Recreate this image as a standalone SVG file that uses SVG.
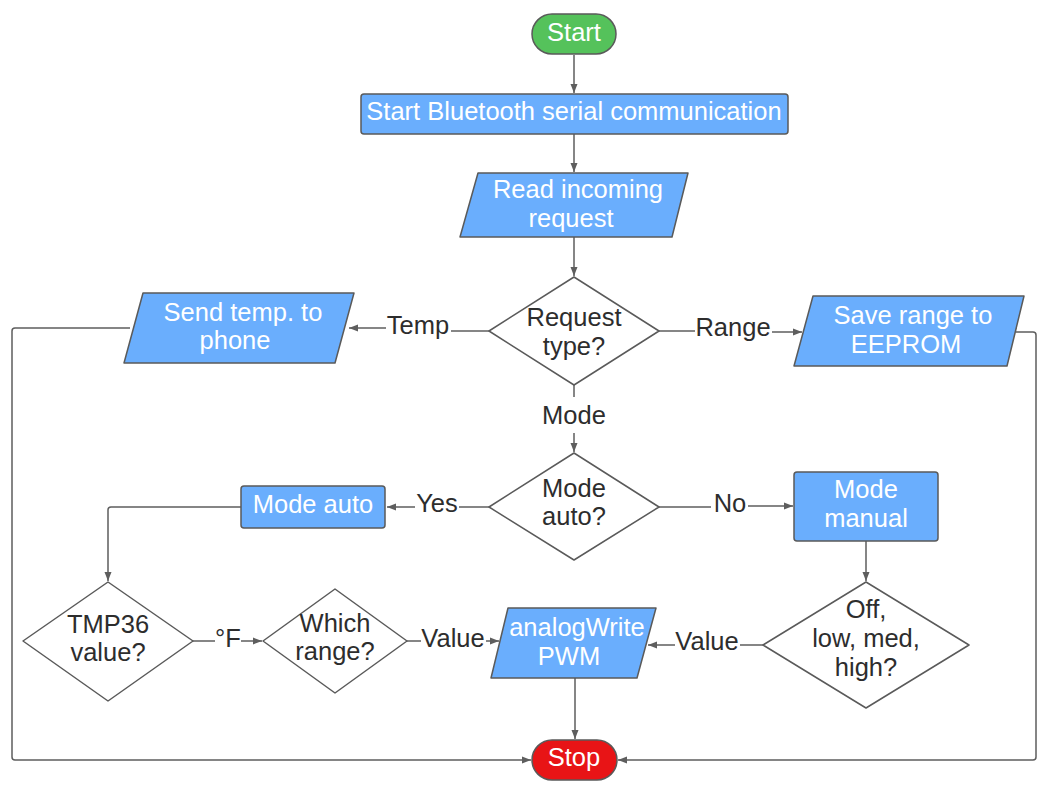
<svg xmlns="http://www.w3.org/2000/svg" width="1047" height="785" viewBox="0 0 1047 785">
<style>
.bg{fill:#ffffff}
.shape{stroke:#5a5a5a;stroke-width:1.5;stroke-linejoin:round}
.blue{fill:#6aaefd}
.green{fill:#55c25b}
.red{fill:#e81416}
.dia{fill:#ffffff}
.nt{font-family:"Liberation Sans",Arial,sans-serif;font-size:25.5px;fill:#ffffff;text-anchor:middle}
.dt{font-family:"Liberation Sans",Arial,sans-serif;font-size:25.5px;fill:#2d2d2d;text-anchor:middle}
.lt{font-family:"Liberation Sans",Arial,sans-serif;font-size:25.5px;fill:#2d2d2d;text-anchor:middle}
.c{fill:none;stroke:#5e5e5e;stroke-width:1.5}
</style>
<defs>
<marker id="arr" markerUnits="userSpaceOnUse" markerWidth="10" markerHeight="8" refX="9" refY="4" orient="auto">
<path d="M0,0.5 L9,4 L0,7.5 Z" fill="#5e5e5e"/>
</marker>
</defs>
<rect class="bg" x="0" y="0" width="1047" height="785"/>

<g id="connectors">
<path class="c" d="M574,55 V93" marker-end="url(#arr)"/>
<path class="c" d="M574,134 V172" marker-end="url(#arr)"/>
<path class="c" d="M574,237 V276" marker-end="url(#arr)"/>
<path class="c" d="M489,331 H451"/>
<path class="c" d="M386,328 H349" marker-end="url(#arr)"/>
<text class="lt" x="418" y="334">Temp</text>
<path class="c" d="M659,331 H695"/>
<path class="c" d="M772,332 H802" marker-end="url(#arr)"/>
<text class="lt" x="733" y="336">Range</text>
<path class="c" d="M574,385 V397"/>
<path class="c" d="M574,433 V452" marker-end="url(#arr)"/>
<text class="lt" x="574" y="424">Mode</text>
<path class="c" d="M489,507 H459"/>
<path class="c" d="M415,507 H387" marker-end="url(#arr)"/>
<text class="lt" x="437" y="512">Yes</text>
<path class="c" d="M659,507 H711"/>
<path class="c" d="M748,506 H793" marker-end="url(#arr)"/>
<text class="lt" x="730" y="512">No</text>
<path class="c" d="M241,507 H111 Q108,507 108,510 V581" marker-end="url(#arr)"/>
<path class="c" d="M866,541 V581" marker-end="url(#arr)"/>
<path class="c" d="M193,641 H215"/>
<path class="c" d="M241,641 H262" marker-end="url(#arr)"/>
<text class="lt" x="228" y="647">°F</text>
<path class="c" d="M407,641 H421"/>
<path class="c" d="M486,641 H499" marker-end="url(#arr)"/>
<text class="lt" x="453" y="647">Value</text>
<path class="c" d="M763,645 H740"/>
<path class="c" d="M675,645 H648" marker-end="url(#arr)"/>
<text class="lt" x="707" y="650">Value</text>
<path class="c" d="M575,678 V739" marker-end="url(#arr)"/>
<path class="c" d="M130,328 H15 Q12,328 12,331 V757 Q12,760 15,760 H531" marker-end="url(#arr)"/>
<path class="c" d="M1016,332 H1033 Q1036,332 1036,335 V757 Q1036,760 1033,760 H618" marker-end="url(#arr)"/>
</g>

<g id="start">
<rect class="shape green" x="532" y="14" width="84" height="40" rx="20"/>
<text class="nt" x="574" y="41">Start</text>
</g>
<g id="bluetooth">
<rect class="shape blue" x="361" y="94" width="427" height="40" rx="3"/>
<text class="nt" x="574" y="120">Start Bluetooth serial communication</text>
</g>
<g id="read">
<polygon class="shape blue" points="478,173 688,173 672,237 460,237"/>
<text class="nt" x="578" y="198">Read incoming</text>
<text class="nt" x="571" y="227">request</text>
</g>
<g id="request">
<polygon class="shape dia" points="574,277 659,331 574,385 489,331"/>
<text class="dt" x="574" y="326">Request</text>
<text class="dt" x="574" y="355">type?</text>
</g>
<g id="sendtemp">
<polygon class="shape blue" points="143,293 354,293 335,363 124,363"/>
<text class="nt" x="243" y="321">Send temp. to</text>
<text class="nt" x="235" y="349">phone</text>
</g>
<g id="saverange">
<polygon class="shape blue" points="813,296 1024,296 1007,366 794,366"/>
<text class="nt" x="913" y="324">Save range to</text>
<text class="nt" x="906" y="353">EEPROM</text>
</g>
<g id="modeautoq">
<polygon class="shape dia" points="574,453 659,507 574,560 489,507"/>
<text class="dt" x="574" y="497">Mode</text>
<text class="dt" x="574" y="525">auto?</text>
</g>
<g id="modeauto">
<rect class="shape blue" x="241" y="486" width="144" height="42" rx="3"/>
<text class="nt" x="313" y="513">Mode auto</text>
</g>
<g id="modemanual">
<rect class="shape blue" x="794" y="472" width="144" height="69" rx="3"/>
<text class="nt" x="866" y="498">Mode</text>
<text class="nt" x="866" y="527">manual</text>
</g>
<g id="tmp36">
<polygon class="shape dia" points="108,582 193,641 108,701 23,641"/>
<text class="dt" x="108" y="633">TMP36</text>
<text class="dt" x="108" y="661">value?</text>
</g>
<g id="whichrange">
<polygon class="shape dia" points="335,589 407,641 335,693 263,641"/>
<text class="dt" x="335" y="632">Which</text>
<text class="dt" x="335" y="660">range?</text>
</g>
<g id="analogwrite">
<polygon class="shape blue" points="508,608 656,608 637,678 491,678"/>
<text class="nt" x="577" y="636">analogWrite</text>
<text class="nt" x="569" y="665">PWM</text>
</g>
<g id="offlow">
<polygon class="shape dia" points="866,582 969,645 866,708 763,645"/>
<text class="dt" x="866" y="618">Off,</text>
<text class="dt" x="866" y="647">low, med,</text>
<text class="dt" x="866" y="676">high?</text>
</g>
<g id="stop">
<rect class="shape red" x="532" y="740" width="85" height="40" rx="20"/>
<text class="nt" x="574" y="766">Stop</text>
</g>
</svg>
